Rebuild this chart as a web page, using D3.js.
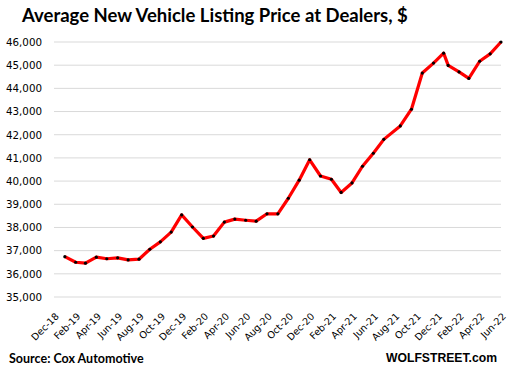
<!DOCTYPE html>
<html>
<head>
<meta charset="utf-8">
<script src="https://cdn.jsdelivr.net/npm/d3@7"></script>
<style>
  body { margin: 0; background: #fff; }
  svg { display: block; }
</style>
</head>
<body>
<div id="chart"></div>
<script>
// listing price data, Cox Automotive
var dates = ["2019-01-01", "2019-02-01", "2019-03-01", "2019-04-01", "2019-05-01",
  "2019-06-01", "2019-07-01", "2019-08-01", "2019-09-01", "2019-10-01",
  "2019-11-01", "2019-12-01", "2020-01-01", "2020-02-01", "2020-03-01",
  "2020-04-01", "2020-05-01", "2020-06-01", "2020-07-01", "2020-08-01",
  "2020-09-01", "2020-10-01", "2020-11-01", "2020-12-01", "2021-01-01",
  "2021-02-01", "2021-03-01", "2021-04-01", "2021-05-01", "2021-06-01",
  "2021-07-01", "2021-08-17", "2021-09-18", "2021-10-19", "2021-11-20",
  "2021-12-19", "2022-01-01", "2022-02-01", "2022-03-01", "2022-04-01",
  "2022-05-01", "2022-06-01"];
var prices = [36740, 36500, 36460, 36720, 36650, 36690, 36600, 36630, 37060, 37380,
  37800, 38540, 38020, 37530, 37630, 38230, 38360, 38310, 38270, 38590,
  38590, 39260, 40040, 40920, 40220, 40080, 39510, 39920, 40640, 41200,
  41800, 42380, 43100, 44660, 45090, 45520, 44990, 44710, 44430, 45170,
  45490, 46000];
var yTicks = [35000, 36000, 37000, 38000, 39000, 40000, 41000, 42000, 43000, 44000, 45000, 46000];

var width = 515;
var height = 375;
var margin = {left: 54, right: 14, top: 42, bottom: 78};

var parseDate = d3.timeParse("%Y-%m-%d");
var data = dates.map(function(d, i) {
    return {date: parseDate(d), value: prices[i]};
});

var axisStart = new Date(2018, 11, 1);
var axisEnd = new Date(2022, 5, 1);

var x = d3.scaleTime()
    .domain([axisStart, axisEnd])
    .range([margin.left, width - margin.right]);

var y = d3.scaleLinear()
    .domain([35000, 46000])
    .range([height - margin.bottom, margin.top]);

var svg = d3.select("#chart")
    .append("svg")
    .attr("width", width)
    .attr("height", height);

// title
svg.append("text")
    .attr("x", 22)
    .attr("y", 22)
    .style("font-family", "Lato, 'Open Sans', sans-serif")
    .style("font-weight", "bold")
    .style("font-size", "18.5px")
    .style("fill", "#000")
    .text("Average New Vehicle Listing Price at Dealers, $");

// gridlines
svg.append("g")
    .attr("class", "grid")
    .selectAll("line")
    .data(yTicks)
  .enter().append("line")
    .attr("x1", margin.left)
    .attr("x2", width - margin.right)
    .attr("y1", function(d) { return y(d); })
    .attr("y2", function(d) { return y(d); })
    .style("stroke", "#d9d9d9")
    .style("stroke-width", 1);

// y axis
var yAxis = d3.axisLeft(y)
    .tickValues(yTicks)
    .tickFormat(d3.format(","))
    .tickSize(0)
    .tickPadding(12);

svg.append("g")
    .attr("transform", "translate(" + margin.left + ",0)")
    .call(yAxis)
    .call(function(g) { g.select(".domain").remove(); })
    .selectAll("text")
    .style("font-family", "'DejaVu Sans', Verdana, sans-serif")
    .style("font-size", "10.3px")
    .style("fill", "#000");

// x axis, every second month
var xTicks = d3.timeMonth.range(axisStart, d3.timeDay.offset(axisEnd, 1), 2);

var xAxis = d3.axisBottom(x)
    .tickValues(xTicks)
    .tickFormat(d3.timeFormat("%b-%y"))
    .tickSize(0)
    .tickPadding(0);

svg.append("g")
    .attr("transform", "translate(0," + (height - margin.bottom) + ")")
    .call(xAxis)
    .call(function(g) { g.select(".domain").remove(); })
    .selectAll("text")
    .style("font-family", "'DejaVu Sans', Verdana, sans-serif")
    .style("font-size", "9.6px")
    .style("fill", "#000")
    .style("text-anchor", "end")
    .attr("dx", "0")
    .attr("dy", "0")
    .attr("transform", "translate(5,20) rotate(-45)");

// line
var line = d3.line()
    .x(function(d) { return x(d.date); })
    .y(function(d) { return y(d.value); });

svg.append("path")
    .datum(data)
    .attr("d", line)
    .style("fill", "none")
    .style("stroke", "#ff0000")
    .style("stroke-width", 3.2)
    .style("stroke-linejoin", "round");

svg.append("g")
    .selectAll("circle")
    .data(data)
  .enter().append("circle")
    .attr("cx", function(d) { return x(d.date); })
    .attr("cy", function(d) { return y(d.value); })
    .attr("r", 1.6)
    .style("fill", "#000");

// source and site
svg.append("text")
    .attr("x", 9)
    .attr("y", 363)
    .style("font-family", "Lato, 'Open Sans', sans-serif")
    .style("font-weight", "bold")
    .style("font-size", "12.5px")
    .style("fill", "#000")
    .text("Source: Cox Automotive");

svg.append("text")
    .attr("x", 497)
    .attr("y", 362)
    .attr("text-anchor", "end")
    .style("font-family", "'Liberation Sans', Arial, sans-serif")
    .style("font-weight", "bold")
    .style("font-size", "12.2px")
    .style("fill", "#000")
    .text("WOLFSTREET.com");
</script>
</body>
</html>
